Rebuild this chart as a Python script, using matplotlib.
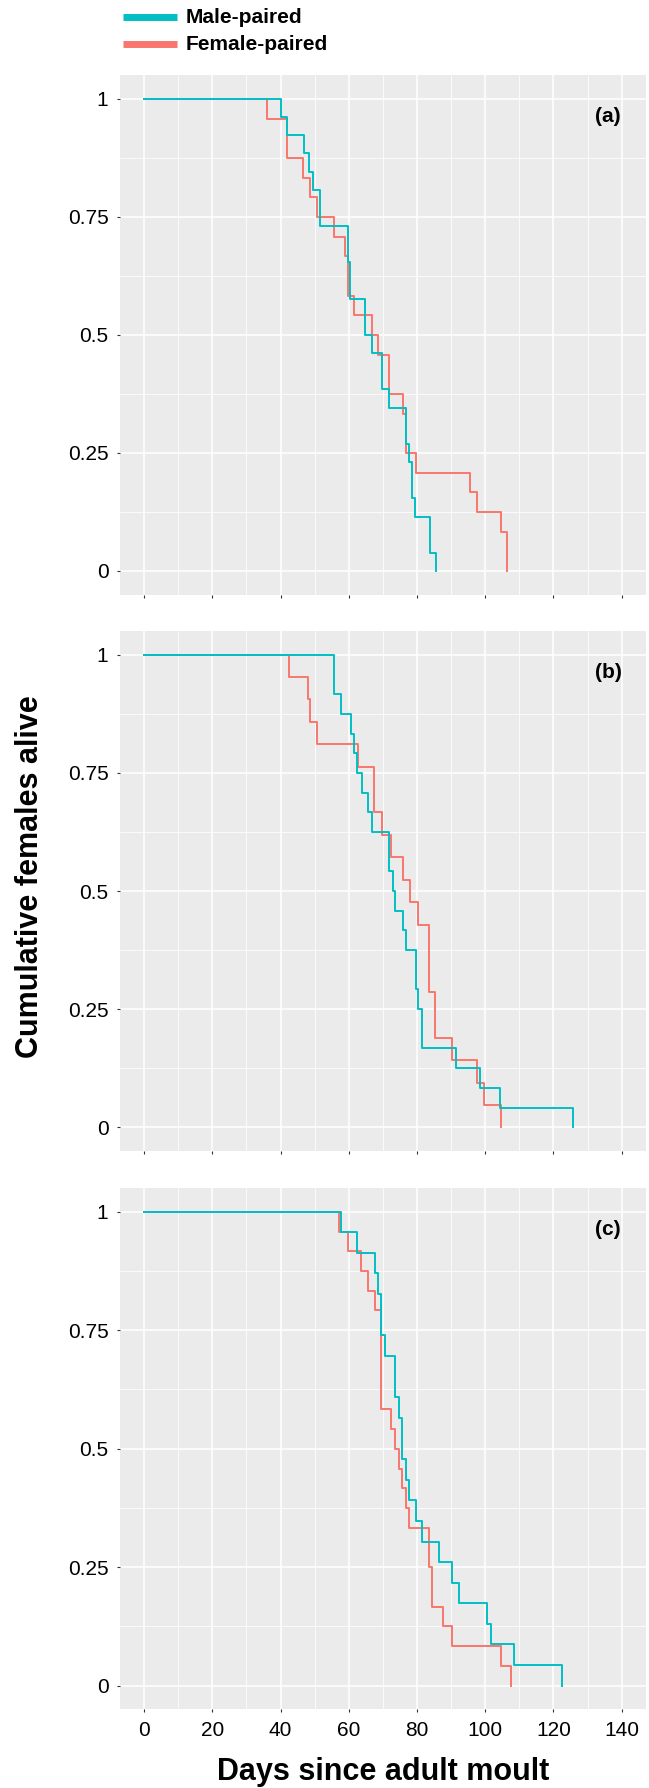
import matplotlib
matplotlib.use("Agg")
import matplotlib.pyplot as plt
from matplotlib.lines import Line2D

plt.rcParams['font.family'] = ['Liberation Sans', 'DejaVu Sans']

# ---------------- data ----------------
series_names = ["Male-paired", "Female-paired"]
panel_labels = ["(a)", "(b)", "(c)"]

x_ticks = [0, 20, 40, 60, 80, 100, 120, 140]
x_tick_labels = ["0", "20", "40", "60", "80", "100", "120", "140"]
y_ticks = [0, 0.25, 0.5, 0.75, 1]
y_tick_labels = ["0", "0.25", "0.5", "0.75", "1"]

# Panel (a)
a_male_days = [0, 40, 42, 47, 48.4, 49.6, 51.7, 59.9, 60.4, 64.7, 66.7, 69.8, 71.8,
               76.7, 77.6, 78.4, 79.4, 83.8, 85.7]
a_male_surv = [1, 0.962, 0.923, 0.885, 0.846, 0.808, 0.731, 0.654, 0.577, 0.5, 0.462,
               0.385, 0.346, 0.269, 0.231, 0.154, 0.115, 0.038, 0]
a_female_days = [0, 35.9, 41.9, 46.7, 48.6, 50.8, 55.7, 58.9, 59.9, 61.5, 66.7, 68.6,
                 71.9, 75.8, 76.7, 79.6, 95.5, 97.5, 104.5, 106.5]
a_female_surv = [1, 0.958, 0.875, 0.833, 0.792, 0.75, 0.708, 0.667, 0.583, 0.542, 0.5,
                 0.458, 0.375, 0.333, 0.25, 0.208, 0.167, 0.125, 0.083, 0]

# Panel (b)
b_male_days = [0, 55.7, 57.6, 60.5, 61.5, 62.3, 63.8, 65.7, 66.7, 71.9, 72.9, 73.6,
               75.8, 76.8, 79.6, 80.4, 81.6, 91.4, 98.5, 104.3, 125.6]
b_male_surv = [1, 0.917, 0.875, 0.833, 0.792, 0.75, 0.708, 0.667, 0.625, 0.542, 0.5,
               0.458, 0.417, 0.375, 0.292, 0.25, 0.167, 0.125, 0.083, 0.042, 0]
b_female_days = [0, 42.6, 47.9, 48.6, 50.6, 62.6, 67.5, 69.6, 72.5, 75.8, 78.0, 80.4,
                 83.6, 85.3, 90.4, 97.5, 99.6, 104.5]
b_female_surv = [1, 0.952, 0.905, 0.857, 0.810, 0.762, 0.667, 0.619, 0.571, 0.524,
                 0.476, 0.429, 0.286, 0.190, 0.143, 0.095, 0.048, 0]

# Panel (c)
c_male_days = [0, 57.6, 62.5, 67.7, 68.7, 69.4, 70.6, 73.5, 74.7, 75.6, 76.7, 77.7,
               79.6, 81.4, 86.5, 90.4, 92.4, 100.6, 101.6, 108.4, 122.6]
c_male_surv = [1, 0.957, 0.913, 0.870, 0.826, 0.739, 0.696, 0.609, 0.565, 0.478, 0.435,
               0.391, 0.348, 0.304, 0.261, 0.217, 0.174, 0.130, 0.087, 0.043, 0]
c_female_days = [0, 57.0, 59.9, 63.6, 65.7, 67.7, 69.4, 72.4, 73.5, 74.6, 75.7, 76.8,
                 77.7, 83.6, 84.5, 87.7, 90.4, 104.5, 107.7]
c_female_surv = [1, 0.958, 0.917, 0.875, 0.833, 0.792, 0.583, 0.542, 0.5, 0.458, 0.417,
                 0.375, 0.333, 0.25, 0.167, 0.125, 0.083, 0.042, 0]

panels_data = [
    (a_male_days, a_male_surv, a_female_days, a_female_surv),
    (b_male_days, b_male_surv, b_female_days, b_female_surv),
    (c_male_days, c_male_surv, c_female_days, c_female_surv),
]

# ---------------- styling ----------------
MALE_COLOR = '#00BFC4'
FEMALE_COLOR = '#F8766D'
PANEL_BG = '#EBEBEB'

W, H = 649, 1788
fig = plt.figure(figsize=(W / 100, H / 100), dpi=100)
fig.patch.set_facecolor('white')

left_px, right_px = 120.3, 645.5
panel_px = [(75.4, 594.6), (630.9, 1151.1), (1188.0, 1709.4)]

for i, ((md, ms, fd, fs), (top, bot)) in enumerate(zip(panels_data, panel_px)):
    ax = fig.add_axes([left_px / W, 1 - bot / H, (right_px - left_px) / W, (bot - top) / H])
    ax.set_facecolor(PANEL_BG)
    ax.set_xlim(-7, 147)
    ax.set_ylim(-0.05, 1.05)
    ax.set_xticks(x_ticks)
    ax.set_xticks([10, 30, 50, 70, 90, 110, 130], minor=True)
    ax.set_yticks(y_ticks)
    ax.set_yticks([0.125, 0.375, 0.625, 0.875], minor=True)
    ax.set_yticklabels(y_tick_labels)
    if i == 2:
        ax.set_xticklabels(x_tick_labels)
    else:
        ax.set_xticklabels([])
    ax.grid(which='major', color='white', linewidth=1.1)
    ax.grid(which='minor', color='white', linewidth=0.55)
    ax.set_axisbelow(True)
    for s in ax.spines.values():
        s.set_visible(False)
    ax.tick_params(which='minor', length=0)
    ax.tick_params(which='major', length=2, width=0.8, color='#333333',
                   labelsize=15, labelcolor='black', pad=6.5)

    ax.step(fd, fs, where='post', color=FEMALE_COLOR, linewidth=1.4, zorder=3)
    ax.step(md, ms, where='post', color=MALE_COLOR, linewidth=1.4, zorder=4)

    ax.text(136, 0.9625, panel_labels[i], fontsize=15, fontweight='bold',
            ha='center', va='center', zorder=5)

# ---------------- legend ----------------
legend_rows = [(17.3, MALE_COLOR, series_names[0]), (44.0, FEMALE_COLOR, series_names[1])]
for y_px, col, name in legend_rows:
    fig.add_artist(Line2D([123 / W, 177 / W], [1 - y_px / H, 1 - y_px / H],
                          color=col, linewidth=5, solid_capstyle='butt'))
    fig.text(186 / W, 1 - y_px / H, name, fontsize=15, fontweight='bold',
             ha='left', va='center')

# ---------------- axis titles ----------------
fig.text(30 / W, 1 - 877 / H, 'Cumulative females alive', rotation=90,
         fontsize=22, fontweight='bold', ha='center', va='center')
fig.text(383 / W, 1 - 1780 / H, 'Days since adult moult',
         fontsize=22, fontweight='bold', ha='center', va='baseline')

fig.savefig('out.png', dpi=100)
